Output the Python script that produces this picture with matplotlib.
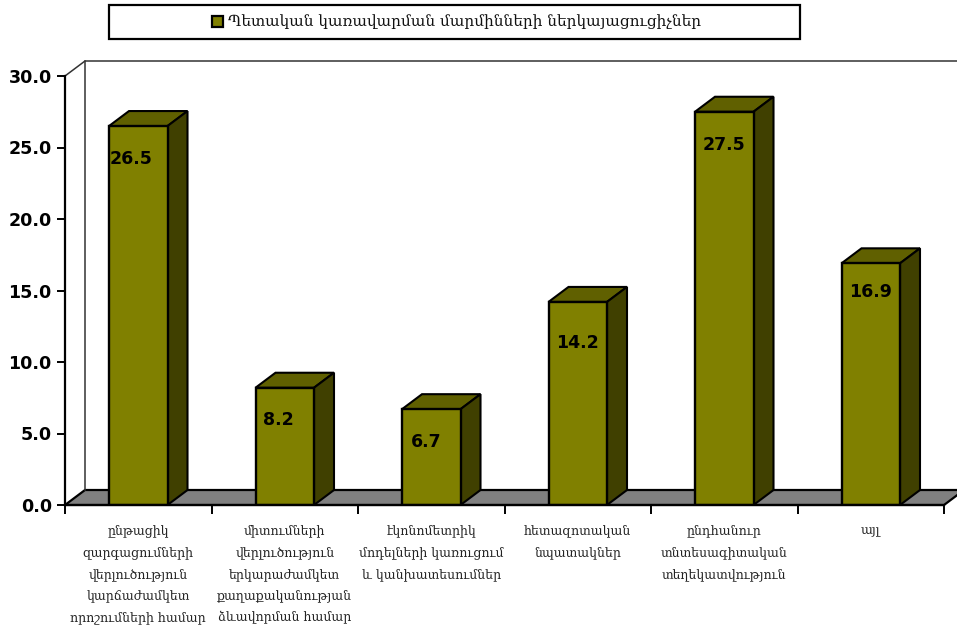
import matplotlib
matplotlib.use("Agg")
import matplotlib.pyplot as plt
from matplotlib.patches import Polygon, Rectangle

categories = [
    "ընթացիկ\nզարգացումների\nվերլուծություն\nկարճաժամկետ\nորոշումների համար",
    "միտումների\nվերլուծություն\nերկարաժամկետ\nքաղաքականության\nձևավորման համար",
    "էկոնոմետրիկ\nմոդելների կառուցում\nև կանխատեսումներ",
    "հետազոտական\nնպատակներ",
    "ընդհանուր\nտնտեսագիտական\nտեղեկատվություն",
    "այլ",
]
values = [26.5, 8.2, 6.7, 14.2, 27.5, 16.9]
legend_label = "Պետական կառավարման մարմինների ներկայացուցիչներ"
yticks = [0, 5, 10, 15, 20, 25, 30]

W, H = 957, 630
fig = plt.figure(figsize=(W / 100, H / 100), dpi=100)
ax = fig.add_axes([65 / W, 1 - 505 / H, 879 / W, 429 / H])
ax.set_xlim(0, 6)
ax.set_ylim(0, 30)
ax.patch.set_alpha(0)

# depth of the fake 3d box, in data units
dx = 20 / (879 / 6)
dy = 15 / (429 / 30)
bar_w = 58.5 / (879 / 6)

olive = "#808000"
olive_top = "#606000"
olive_side = "#404000"

# wall + floor
ax.add_patch(Polygon([(0, 0), (dx, dy), (6 + dx, dy), (6, 0)], fc="#808080", ec="black", lw=1.6,
                     clip_on=False, zorder=1))
ax.plot([dx, dx], [dy, 30 + dy], color="#333333", lw=1.1, clip_on=False, zorder=1)
ax.plot([0, dx, 6 + dx], [30, 30 + dy, 30 + dy], color="#333333", lw=1.1, clip_on=False, zorder=1)

# value labels sit unevenly in the original, nudges in pixels
label_dx = [-7, -6, -5, 0, 0, 0]
label_dy = [-33, -32, -33, -41, -33, -29]

for i, v in enumerate(values):
    c = i + 0.5
    l, r = c - bar_w / 2, c + bar_w / 2
    ax.bar(c, v, width=bar_w, color=olive, edgecolor="black", linewidth=1.7, zorder=3)
    ax.add_patch(Polygon([(l, v), (l + dx, v + dy), (r + dx, v + dy), (r, v)], fc=olive_top, ec="black",
                         lw=1.5, zorder=2, clip_on=False))
    ax.add_patch(Polygon([(r, 0), (r + dx, dy), (r + dx, v + dy), (r, v)], fc=olive_side, ec="black",
                         lw=1.5, zorder=2, clip_on=False))
    ax.annotate(f"{v:.1f}", xy=(c, v), xytext=(label_dx[i], label_dy[i]), textcoords="offset pixels",
                ha="center", va="center", fontsize=12.5, fontweight="bold", family="DejaVu Sans",
                color="black", zorder=4)

for s in ["top", "right"]:
    ax.spines[s].set_visible(False)
for s in ["left", "bottom"]:
    ax.spines[s].set_linewidth(1.6)
    ax.spines[s].set_zorder(5)

ax.set_yticks(yticks)
ax.set_yticklabels([f"{t:.1f}" for t in yticks], fontsize=12.6, fontweight="bold", family="DejaVu Sans")
ax.tick_params(axis="y", length=6, width=1.4, pad=3.5)
ax.set_xticks(range(7))
ax.set_xticklabels([])
ax.tick_params(axis="x", length=6.5, width=1.4)

for i, cat in enumerate(categories):
    ax.annotate(cat, xy=(i + 0.5, 0), xytext=(0, -14), textcoords="offset points", ha="center", va="top",
                fontsize=9, family="DejaVu Serif", color="#222222", linespacing=1.87)

# legend box
fig.add_artist(Rectangle((109 / W, 1 - 39 / H), 691 / W, 34 / H, transform=fig.transFigure, fc="white",
                         ec="black", lw=1.6))
fig.add_artist(Rectangle((212 / W, 1 - 27 / H), 11 / W, 11 / H, transform=fig.transFigure, fc=olive,
                         ec="black", lw=1.6))
fig.text(228 / W, 1 - 22 / H, legend_label, ha="left", va="center", fontsize=11,
         family="DejaVu Serif", color="#111111")

fig.savefig("out.png", dpi=100)
